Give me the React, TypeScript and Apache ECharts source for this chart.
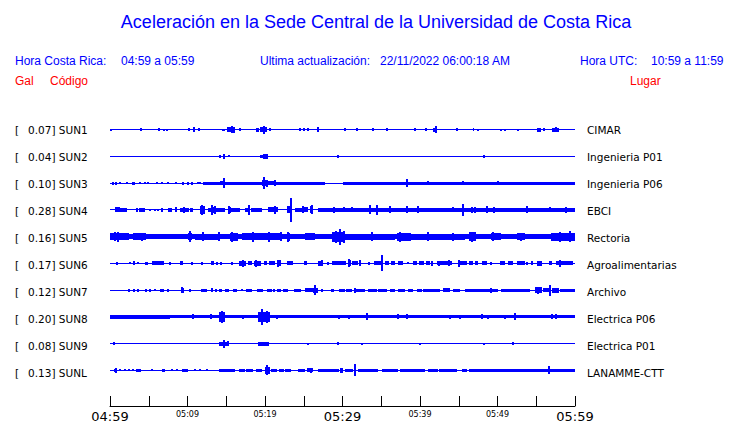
import React, { useEffect, useRef } from 'react';
import * as echarts from 'echarts';

const title = 'Aceleración en la Sede Central de la Universidad de Costa Rica';
const codes = ['SUN1', 'SUN2', 'SUN3', 'SUN4', 'SUN5', 'SUN6', 'SUN7', 'SUN8', 'SUN9', 'SUNL'];
const gals = ['0.07', '0.04', '0.10', '0.28', '0.16', '0.17', '0.12', '0.20', '0.08', '0.13'];
const places = ['CIMAR', 'Ingenieria P01', 'Ingenieria P06', 'EBCI', 'Rectoria', 'Agroalimentarias', 'Archivo', 'Electrica P06', 'Electrica P01', 'LANAMME-CTT'];
const tickLabels = ['04:59', '05:09', '05:19', '05:29', '05:39', '05:49', '05:59'];

// segments: [startMinute, endMinute, halfAmplitude]; spikes: [minute, halfAmplitude]
const sun1Segments = [[0,60,0.5],[0,0.2,1],[6.2,6.5,1.5],[14.4,14.8,1.2],[15.05,16.1,2.5],[16.6,16.9,1.5],[18.9,19.2,2],[19.4,20.2,2.5],[24.4,24.6,1.5],[33.8,34.0,1.5],[46.8,47.0,1.5],[55.05,55.6,2],[57.0,57.9,2]];
const sun1Spikes = [[4.0,1.5],[7.0,1],[7.3,1],[10.2,1.5],[10.9,2.5],[11.5,1.5],[15.7,3.5],[16.0,3],[19.9,4],[20.7,1.5],[25.0,1.5],[25.5,1.5],[26.9,2.5],[30.3,1.3],[31.9,1.5],[35.7,1.3],[39.3,1.3],[40.8,1.3],[41.85,2],[42.1,3.5],[44.8,1.3],[47.5,1],[50.4,1],[51.0,1],[52.7,1],[55.95,1.5],[57.5,2.5]];

const sun2Segments = [[0,60,0.5],[14.6,14.9,2],[19.4,19.7,1.5],[19.7,20.4,2.5],[29.3,29.5,1.5]];
const sun2Spikes = [[14.2,1.3],[14.75,3],[15.35,1],[20.0,3],[48.3,1.5]];

const sun3Segments = [[0,60,0.5],[0.3,0.5,1.5],[0.7,0.9,1.5],[2.8,3.2,1.5],[8.4,8.6,1],[9.3,9.6,1.5],[9.9,10.2,1.5],[10.4,10.75,1.5],[11.2,11.8,1],[12.0,27.7,1.5],[30.1,60,1.5],[14.2,14.9,2],[19.6,20.2,3],[20.2,21.3,2]];
const sun3Spikes = [[1.25,1],[2.15,1],[3.9,1],[4.5,1],[4.95,1],[6.0,1],[6.7,1],[7.5,1],[14.75,5],[19.9,6],[20.3,3.5],[21.3,3],[38.3,4],[41.0,2],[45.5,2],[50.0,2]];

const sun4Segments = [[0,60,0.5],[0.7,1.3,2.5],[1.3,2.15,2],[3.3,3.6,2],[3.8,4.5,2],[7.5,8.0,2],[8.4,8.6,2.5],[9.0,9.5,2],[9.7,10.2,2],[10.3,10.75,2],[11.6,12.25,4],[12.7,13.2,2],[13.3,13.6,3],[13.7,14.8,2],[15.3,15.6,3],[15.6,16.8,2],[17.4,17.8,2],[18.2,19.6,2],[20.4,21.7,2.5],[22.8,23.2,3.5],[23.9,25.0,2],[25.0,25.6,2.5],[25.8,26.2,3.5],[26.9,60,2]];
const sun4Spikes = [[5.2,1.3],[5.8,1.3],[6.2,1.3],[6.75,2],[9.6,3],[11.9,5],[13.2,5],[13.5,4],[15.4,4],[17.9,5],[21.3,4],[23.4,12.5],[24.9,3.5],[26.0,4.5],[28.9,3],[30.2,2.5],[31.2,2.5],[33.6,4.5],[34.5,5],[36.1,3.5],[38.3,3.5],[39.7,3.5],[44.3,2.5],[45.5,6],[46.7,3],[47.1,3],[48.6,3.5],[49.5,3],[53.8,3.5],[56.8,2.5],[58.9,3]];

const sun5Segments = [[0,60,2.5],[0,2.4,3.5],[3.0,4.7,3.5],[10.0,10.6,3.5],[11.0,14.2,3.2],[15.5,16.5,4],[17.0,22.2,3.5],[22.8,23.2,4],[25.2,26.5,3.5],[28.6,30.3,5],[30.3,36.8,3],[37.0,38.9,4],[38.9,45.8,3],[46.3,47.2,4.5],[49.2,50.5,3.5],[52.5,53.5,3.5],[56.9,60,4]];
const sun5Spikes = [[0.7,4.5],[1.0,5],[4.1,4],[10.3,5.5],[12.0,4.5],[14.0,4.5],[15.7,5],[18.5,5],[20.5,5],[22.0,4.5],[23.0,5],[29.1,6],[29.7,8],[30.2,6],[33.8,4.5],[37.4,5],[41.0,4.5],[44.2,4],[46.7,5],[49.4,4.5],[53.0,4],[58.0,5],[59.4,5.5]];

const sun6Segments = [[0,60,0.5],[3.0,3.2,2],[4.5,4.9,1.5],[5.4,7.0,2],[9.0,9.4,2],[13.0,13.4,2],[16.7,17.6,2.5],[17.85,18.3,2],[18.6,19.5,2.5],[19.9,20.3,2],[20.5,21.3,2],[21.5,22.0,3],[22.8,23.6,2],[25.0,25.4,2],[26.8,27.4,2.5],[28.6,30.5,2],[30.75,31.1,3],[31.2,32.0,2],[33.3,33.6,1.5],[34.0,35.0,2],[35.5,36.0,2],[36.3,36.8,2],[37.2,37.8,2],[39.1,39.6,2],[39.9,40.5,2],[40.8,41.3,2],[42.2,44.1,2],[45.2,46.0,2],[46.3,46.9,2],[47.1,47.5,2],[48.0,48.6,2],[50.3,51.0,2],[51.4,52.0,2],[52.5,53.5,2],[55.1,55.8,2.5],[56.6,57.0,2],[57.6,59.8,2]];
const sun6Spikes = [[0.85,1.5],[2.6,1],[3.65,1],[7.8,1.5],[10.6,1.5],[11.9,1.5],[13.85,1.5],[14.3,1.5],[15.7,1.5],[17.2,3.5],[18.8,3.5],[21.7,3.5],[27.4,3],[28.1,1.5],[30.9,4],[32.3,3],[35.1,8],[38.5,1],[41.6,2.5],[42.4,2.5],[43.7,3],[45.0,3.5],[49.2,1.5],[53.8,1.5],[54.4,2],[58.0,3.5]];

const sun7Segments = [[0,60,0.5],[3.0,3.2,1.5],[3.5,3.8,1.5],[4.5,4.8,1.5],[6.5,7.0,1.5],[9.2,9.5,2.5],[11.7,12.5,1.5],[13.0,13.3,2],[13.5,13.8,1.5],[14.0,14.5,1.5],[14.8,15.3,1.5],[17.5,18.3,1.5],[19.0,19.8,1.5],[20.2,20.9,1.5],[21.5,22.1,1.5],[22.3,23.0,1.5],[23.7,24.7,1.5],[25.2,26.2,2],[26.2,26.9,2.5],[28.5,28.9,1.5],[29.5,30.3,1.5],[30.5,31.2,1.5],[31.8,32.9,1.5],[33.3,34.4,1.5],[34.6,35.7,1.5],[36.1,36.8,1.5],[37.2,38.1,1.5],[38.5,39.1,1.5],[39.6,40.2,1.5],[40.4,42.6,1.5],[43.0,43.9,2],[44.3,45.2,1.5],[45.8,50.1,1.5],[50.5,54.2,1.5],[54.8,55.7,3],[55.9,56.6,2],[57.0,57.9,2.5],[58.1,60,1.5]];
const sun7Spikes = [[2.45,1.5],[5.2,1.5],[5.8,1],[7.5,1.5],[9.35,3],[10.3,1.5],[16.0,1.5],[16.3,1.5],[17.0,1],[21.1,1.5],[26.5,5],[27.3,1.5],[31.6,2.5],[49.2,2.5],[55.2,3.5],[56.8,5.5]];

const sun8Segments = [[0,60,0.5],[0,7.75,2],[7.75,60,1.5],[14.1,14.85,5],[19.1,20.6,5]];
const sun8Spikes = [[10.75,2.5],[13.0,2.5],[14.5,6],[17.1,2],[19.65,8],[20.2,6],[21.5,2],[29.5,2],[30.8,2],[33.1,3.5],[37.2,2.5],[38.3,2.5],[40.4,1.5],[43.9,2],[45.2,2],[48.0,2.5],[48.8,2],[51.0,2],[52.2,3.5],[57.0,2.5],[57.6,2.5]];

const sun9Segments = [[0,60,0.5],[14.0,15.3,2],[19.1,20.55,2],[29.3,29.5,1.5]];
const sun9Spikes = [[0.55,1.5],[14.7,4],[15.2,2.5],[25.6,1],[32.5,1],[40.0,1],[48.2,1],[52.0,1.5]];

const sunlSegments = [[0,60,0.5],[0.5,0.9,1.5],[3.4,4.0,1.5],[6.7,7.1,1.5],[9.3,10.1,1.5],[14.0,16.1,1.5],[16.6,17.4,1.5],[17.6,18.5,1.5],[18.8,19.6,1.5],[20.0,20.6,3.5],[20.8,21.5,1.5],[21.8,22.4,1.5],[22.6,23.4,1.5],[24.3,25.2,1.5],[25.4,26.2,2],[26.9,29.5,1.5],[29.7,30.0,2.5],[30.3,31.4,1.5],[32.0,34.6,1.5],[35.1,37.1,1.5],[37.4,40.6,1.5],[41.0,42.3,1.5],[42.5,44.8,1.5],[45.4,46.0,1.5],[46.3,60,1.5]];
const sunlSpikes = [[0.75,2.5],[1.3,1],[1.9,1],[2.4,1],[3.0,1],[5.4,1],[8.0,1],[8.6,1],[11.0,1],[11.6,1],[12.5,1],[20.3,5],[25.9,2.5],[31.65,6],[56.7,4]];

const traceSegments = [sun1Segments, sun2Segments, sun3Segments, sun4Segments, sun5Segments, sun6Segments, sun7Segments, sun8Segments, sun9Segments, sunlSegments];
const traceSpikes = [sun1Spikes, sun2Spikes, sun3Spikes, sun4Spikes, sun5Spikes, sun6Spikes, sun7Spikes, sun8Spikes, sun9Spikes, sunlSpikes];

const BLUE = '#0000ff';
const RED = '#ff0000';
const SPACING = 27;
const GRID_TOP = 103;
const SANS = '"Liberation Sans", Arial, sans-serif';
const DEJA = '"DejaVu Sans", sans-serif';

export default function App() {
  const ref = useRef<HTMLDivElement>(null);
  useEffect(() => {
    if (!ref.current) return;
    const chart = echarts.init(ref.current, null, { renderer: 'svg' });

    const series: any[] = [];
    traceSegments.forEach((segs, i) => {
      const base = i * SPACING;
      series.push({
        type: 'custom',
        data: segs,
        clip: false,
        renderItem: (_p: any, api: any) => {
          const t0 = api.value(0), t1 = api.value(1), a = api.value(2);
          const p0 = api.coord([t0, base - a]);
          const p1 = api.coord([t1, base + a]);
          const x = Math.round(p0[0]);
          const x2 = Math.max(x + 1, Math.round(p1[0]));
          const yt = Math.round(Math.min(p0[1], p1[1]));
          const yb = Math.round(Math.max(p0[1], p1[1]));
          return { type: 'rect', shape: { x, y: yt, width: x2 - x, height: Math.max(1, yb - yt) }, style: { fill: BLUE } };
        },
      });
      series.push({
        type: 'custom',
        data: traceSpikes[i],
        clip: false,
        renderItem: (_p: any, api: any) => {
          const t = api.value(0), a = api.value(1);
          const p0 = api.coord([t, base - a]);
          const p1 = api.coord([t, base + a]);
          const x = Math.round(p0[0]) - 1;
          const yt = Math.round(Math.min(p0[1], p1[1]));
          const yb = Math.round(Math.max(p0[1], p1[1]));
          return { type: 'rect', shape: { x, y: yt, width: 2, height: Math.max(1, yb - yt) }, style: { fill: BLUE } };
        },
      });
    });

    const graphic: any[] = [
      { type: 'text', x: 376, y: 22, style: { text: title, fill: BLUE, fontSize: 18, fontFamily: SANS, align: 'center', verticalAlign: 'middle' } },
      { type: 'text', x: 15, y: 61, style: { text: 'Hora Costa Rica:', fill: BLUE, fontSize: 12, fontFamily: SANS, verticalAlign: 'middle' } },
      { type: 'text', x: 121, y: 61, style: { text: '04:59 a 05:59', fill: BLUE, fontSize: 12, fontFamily: SANS, verticalAlign: 'middle' } },
      { type: 'text', x: 260, y: 61, style: { text: 'Ultima actualización:', fill: BLUE, fontSize: 12, fontFamily: SANS, verticalAlign: 'middle' } },
      { type: 'text', x: 380, y: 61, style: { text: '22/11/2022 06:00:18 AM', fill: BLUE, fontSize: 12, fontFamily: SANS, verticalAlign: 'middle' } },
      { type: 'text', x: 580, y: 61, style: { text: 'Hora UTC:', fill: BLUE, fontSize: 12, fontFamily: SANS, verticalAlign: 'middle' } },
      { type: 'text', x: 651, y: 61, style: { text: '10:59 a 11:59', fill: BLUE, fontSize: 12, fontFamily: SANS, verticalAlign: 'middle' } },
      { type: 'text', x: 15, y: 81, style: { text: 'Gal', fill: RED, fontSize: 12, fontFamily: SANS, verticalAlign: 'middle' } },
      { type: 'text', x: 50, y: 81, style: { text: 'Código', fill: RED, fontSize: 12, fontFamily: SANS, verticalAlign: 'middle' } },
      { type: 'text', x: 630, y: 81, style: { text: 'Lugar', fill: RED, fontSize: 12, fontFamily: SANS, verticalAlign: 'middle' } },
    ];
    codes.forEach((c, i) => {
      const y = GRID_TOP + SPACING * (i + 1);
      graphic.push({ type: 'text', x: 15, y, style: { text: '[', fill: '#000', fontSize: 10.5, fontFamily: DEJA, verticalAlign: 'middle' } });
      graphic.push({ type: 'text', x: 28, y, style: { text: `${gals[i]}] ${c}`, fill: '#000', fontSize: 10.5, fontFamily: DEJA, verticalAlign: 'middle' } });
      graphic.push({ type: 'text', x: 587, y, style: { text: places[i], fill: '#000', fontSize: 10.5, fontFamily: DEJA, verticalAlign: 'middle' } });
    });

    chart.setOption({
      animation: false,
      backgroundColor: '#ffffff',
      grid: { left: 110, width: 465, top: GRID_TOP, height: 306 },
      xAxis: {
        type: 'value', min: 0, max: 60, interval: 5, position: 'bottom',
        axisLine: { show: true, onZero: false, lineStyle: { color: '#000', width: 1 } },
        axisTick: { show: true, inside: true, length: 10, lineStyle: { color: '#000' } },
        splitLine: { show: false },
        axisLabel: {
          show: true, margin: 3, showMinLabel: true, showMaxLabel: true,
          formatter: (v: number) => {
            if (v % 10 !== 0) return '';
            const lab = tickLabels[v / 10];
            return v % 30 === 0 ? `{big|${lab}}` : `{small|${lab}}`;
          },
          rich: {
            big: { fontSize: 13, fontFamily: DEJA, color: '#000', lineHeight: 15 },
            small: { fontSize: 8, fontFamily: DEJA, color: '#000', lineHeight: 10 },
          },
        },
      },
      yAxis: { type: 'value', inverse: true, min: -SPACING, max: 306 - SPACING, show: false, splitLine: { show: false } },
      series,
      graphic,
    });
    return () => chart.dispose();
  }, []);
  return <div ref={ref} style={{ position: 'fixed', left: 0, top: 0, width: 740, height: 423, background: '#fff' }} />;
}
